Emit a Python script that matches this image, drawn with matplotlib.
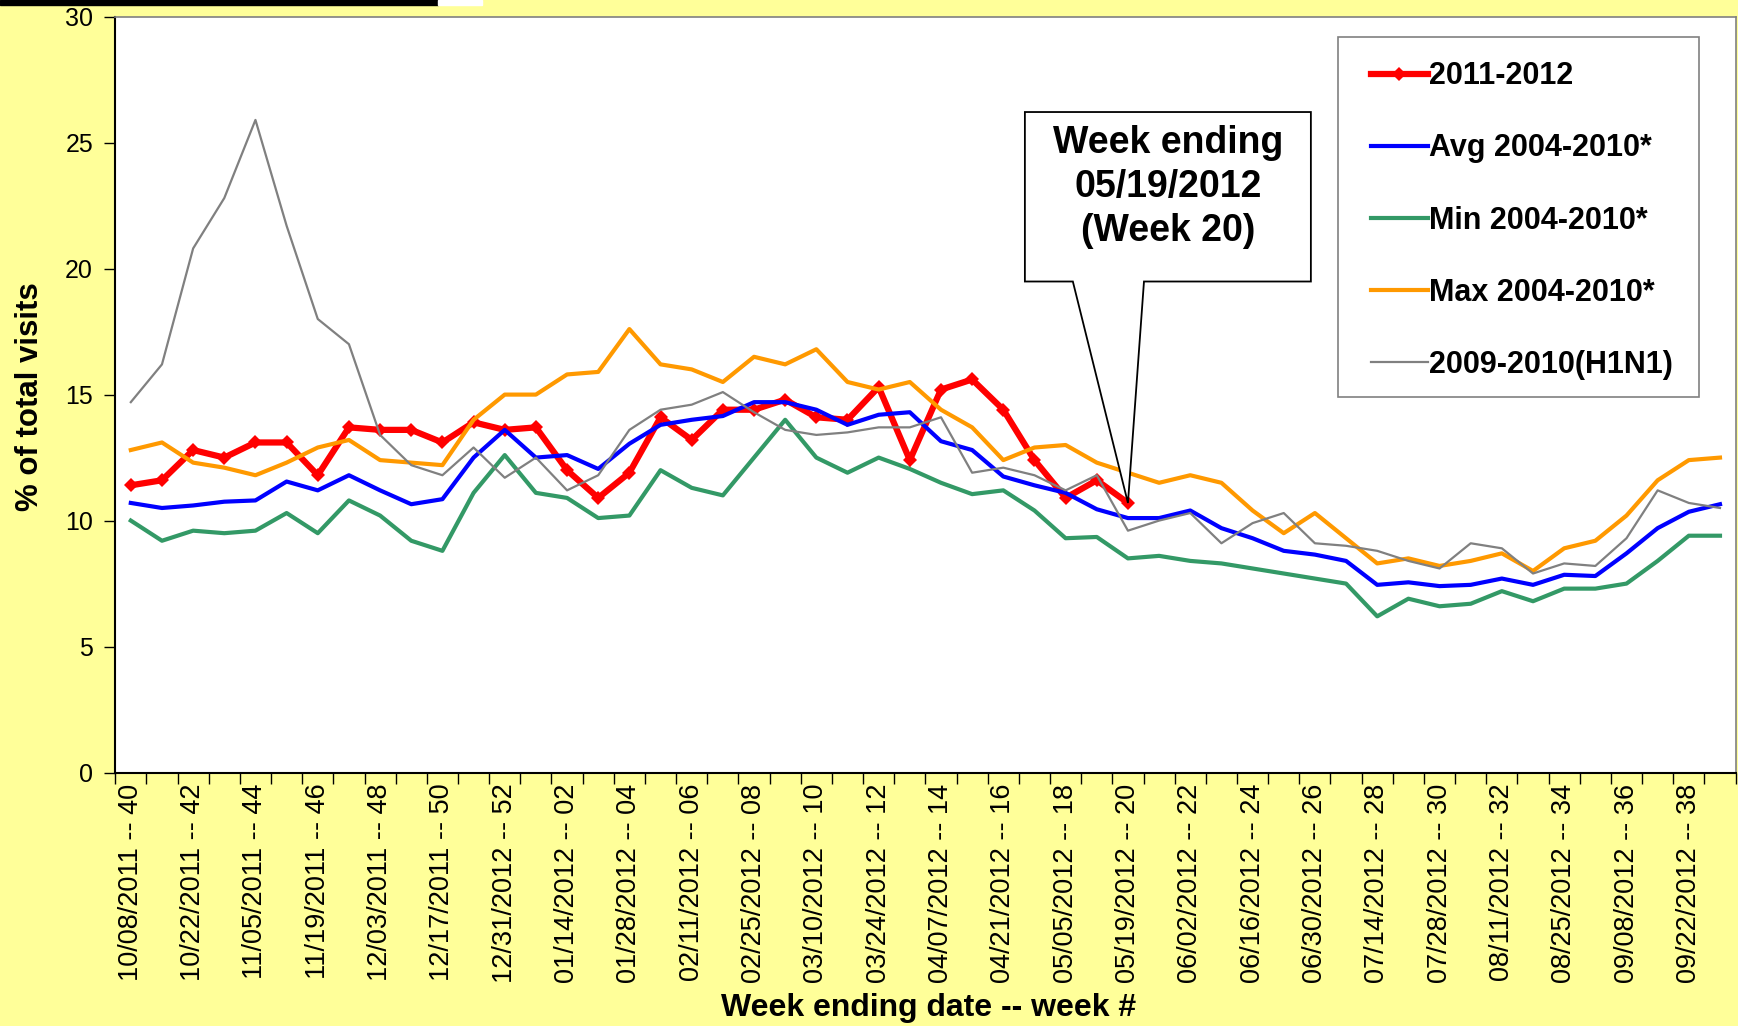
import matplotlib
matplotlib.use('Agg')
import matplotlib.pyplot as plt
import numpy as np
from matplotlib.patches import Polygon, Rectangle

plt.rcParams['font.family'] = ['Liberation Sans', 'DejaVu Sans']

# --- data -----------------------------------------------------------------
week_labels = [
    "10/08/2011 -- 40", "10/22/2011 -- 42", "11/05/2011 -- 44", "11/19/2011 -- 46",
    "12/03/2011 -- 48", "12/17/2011 -- 50", "12/31/2012 -- 52", "01/14/2012 -- 02",
    "01/28/2012 -- 04", "02/11/2012 -- 06", "02/25/2012 -- 08", "03/10/2012 -- 10",
    "03/24/2012 -- 12", "04/07/2012 -- 14", "04/21/2012 -- 16", "05/05/2012 -- 18",
    "05/19/2012 -- 20", "06/02/2012 -- 22", "06/16/2012 -- 24", "06/30/2012 -- 26",
    "07/14/2012 -- 28", "07/28/2012 -- 30", "08/11/2012 -- 32", "08/25/2012 -- 34",
    "09/08/2012 -- 36", "09/22/2012 -- 38",
]
n_weeks = 52

season_2011_2012 = [11.4, 11.6, 12.8, 12.5, 13.1, 13.1, 11.8, 13.7, 13.6, 13.6, 13.1,
                    13.9, 13.6, 13.7, 12.0, 10.9, 11.9, 14.1, 13.2, 14.4, 14.4, 14.8,
                    14.1, 14.0, 15.3, 12.4, 15.2, 15.6, 14.4, 12.4, 10.9, 11.6, 10.7]

avg_2004_2010 = [10.7, 10.5, 10.6, 10.75, 10.8, 11.55, 11.2, 11.8, 11.2, 10.65, 10.85,
                 12.5, 13.6, 12.5, 12.6, 12.05, 13.05, 13.8, 14.0, 14.15, 14.7, 14.7,
                 14.4, 13.8, 14.2, 14.3, 13.15, 12.8, 11.75, 11.4, 11.1, 10.45, 10.1,
                 10.1, 10.4, 9.7, 9.3, 8.8, 8.65, 8.4, 7.45, 7.55, 7.4, 7.45, 7.7,
                 7.45, 7.85, 7.8, 8.7, 9.7, 10.35, 10.65]

min_2004_2010 = [10.0, 9.2, 9.6, 9.5, 9.6, 10.3, 9.5, 10.8, 10.2, 9.2, 8.8, 11.1, 12.6,
                 11.1, 10.9, 10.1, 10.2, 12.0, 11.3, 11.0, 12.5, 14.0, 12.5, 11.9, 12.5,
                 12.05, 11.5, 11.05, 11.2, 10.4, 9.3, 9.35, 8.5, 8.6, 8.4, 8.3, 8.1,
                 7.9, 7.7, 7.5, 6.2, 6.9, 6.6, 6.7, 7.2, 6.8, 7.3, 7.3, 7.5, 8.4, 9.4, 9.4]

max_2004_2010 = [12.8, 13.1, 12.3, 12.1, 11.8, 12.3, 12.9, 13.2, 12.4, 12.3, 12.2, 14.0,
                 15.0, 15.0, 15.8, 15.9, 17.6, 16.2, 16.0, 15.5, 16.5, 16.2, 16.8, 15.5,
                 15.2, 15.5, 14.4, 13.7, 12.4, 12.9, 13.0, 12.3, 11.9, 11.5, 11.8, 11.5,
                 10.4, 9.5, 10.3, 9.3, 8.3, 8.5, 8.2, 8.4, 8.7, 8.0, 8.9, 9.2, 10.2,
                 11.6, 12.4, 12.5]

h1n1_2009_2010 = [14.7, 16.2, 20.8, 22.8, 25.9, 21.7, 18.0, 17.0, 13.4, 12.2, 11.8, 12.9,
                  11.7, 12.5, 11.2, 11.8, 13.6, 14.4, 14.6, 15.1, 14.3, 13.6, 13.4, 13.5,
                  13.7, 13.7, 14.1, 11.9, 12.1, 11.8, 11.2, 11.8, 9.6, 10.0, 10.3, 9.1,
                  9.9, 10.3, 9.1, 9.0, 8.8, 8.4, 8.1, 9.1, 8.9, 7.9, 8.3, 8.2, 9.3, 11.2,
                  10.7, 10.5]

callout_text = "Week ending\n05/19/2012\n(Week 20)"

# --- figure ---------------------------------------------------------------
fig = plt.figure(figsize=(17.38, 10.26), dpi=100, facecolor='#FFFF99')
ax = fig.add_axes([0.0663, 0.247, 0.9323, 0.7368])
ax.set_facecolor('white')

# bandeau noir en haut (reste de la diapositive)
fig.patches.append(Rectangle((0, 1 - 4.5 / 1026), 438 / 1738, 4.5 / 1026,
                             transform=fig.transFigure, color='black', zorder=5))
fig.patches.append(Rectangle((438 / 1738, 1 - 4.5 / 1026), 44 / 1738, 4.5 / 1026,
                             transform=fig.transFigure, color='white', zorder=5))

x_all = np.arange(n_weeks)
x_cur = np.arange(len(season_2011_2012))

ax.plot(x_cur, season_2011_2012, color='#FF0000', lw=4.5, marker='D', ms=7.5,
        mew=0, label='2011-2012', solid_joinstyle='miter')
ax.plot(x_all, avg_2004_2010, color='#0000FF', lw=3, label='Avg 2004-2010*')
ax.plot(x_all, min_2004_2010, color='#339966', lw=3, label='Min 2004-2010*')
ax.plot(x_all, max_2004_2010, color='#FF9900', lw=3, label='Max 2004-2010*')
ax.plot(x_all, h1n1_2009_2010, color='#808080', lw=1.6, label='2009-2010(H1N1)')

ax.set_xlim(-0.5, n_weeks - 0.5)
ax.set_ylim(0, 30)
ax.set_yticks(np.arange(0, 31, 5))
ax.tick_params(axis='y', direction='out', length=8, width=1, labelsize=18, pad=8)

# ticks between categories, labels centered on every other week
ax.set_xticks(np.arange(-0.5, n_weeks, 1))
ax.set_xticklabels([])
ax.set_xticks(np.arange(0, n_weeks, 2), minor=True)
ax.set_xticklabels(week_labels, minor=True, rotation=90, fontsize=19.5)
ax.tick_params(axis='x', which='major', direction='out', length=8, width=1)
ax.tick_params(axis='x', which='minor', length=0, pad=8)

for side in ['left', 'bottom']:
    ax.spines[side].set_color('black')
    ax.spines[side].set_linewidth(1.5)
for side in ['top', 'right']:
    ax.spines[side].set_color('#808080')
    ax.spines[side].set_linewidth(1.2)

fig.text(30 / 1738, 0.613, '% of total visits', rotation=90, ha='center', va='center',
         fontsize=22.5, fontweight='bold')
fig.text(0.5345, 0.018, 'Week ending date -- week #', ha='center', va='center',
         fontsize=23, fontweight='bold')

# cadre de la légende dessiné à part pour contrôler les marges
ax.add_patch(Rectangle((0.7546, 0.4968), 0.9775 - 0.7546, 0.9735 - 0.4968,
                       transform=ax.transAxes, facecolor='white', edgecolor='#808080',
                       lw=1.2, zorder=4))
leg = ax.legend(loc='upper left', bbox_to_anchor=(0.775, 0.941), borderaxespad=0,
                prop={'size': 22, 'weight': 'bold'}, frameon=False, borderpad=0,
                labelspacing=1.38, handlelength=1.85, handletextpad=0.05)
leg.set_zorder(5)

# bulle d'annotation pointant sur la semaine 20
tip = ax.transAxes.inverted().transform(
    ax.transData.transform((len(season_2011_2012) - 1, season_2011_2012[-1])))
bx0, bx1, by0, by1 = 0.5614, 0.7379, 0.6496, 0.8738
callout = Polygon([(bx0, by0), (bx0, by1), (bx1, by1), (bx1, by0),
                   (0.6349, by0), tuple(tip), (0.5910, by0)],
                  closed=True, transform=ax.transAxes, facecolor='white',
                  edgecolor='black', lw=1.3, zorder=6)
ax.add_patch(callout)
ax.text((bx0 + bx1) / 2, 0.7745, callout_text, transform=ax.transAxes, ha='center',
        va='center', fontsize=27, fontweight='bold', linespacing=1.3, zorder=7)

fig.savefig('out.png', dpi=100, facecolor=fig.get_facecolor())
